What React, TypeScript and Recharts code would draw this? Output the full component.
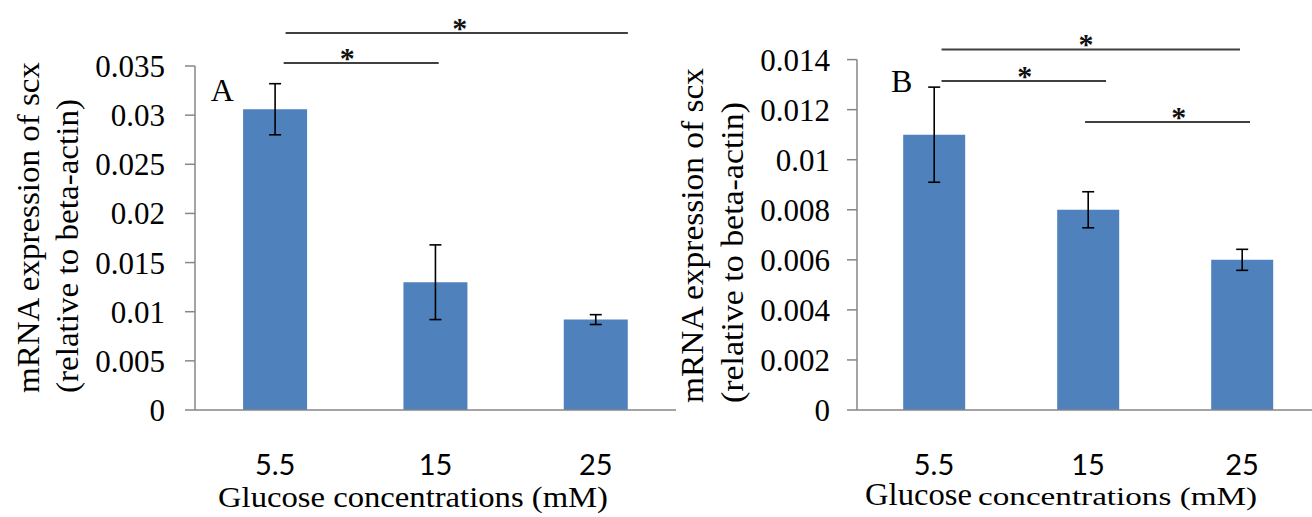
import React from "react"
import {
  BarChart,
  Bar,
  XAxis,
  YAxis,
  ErrorBar,
  ReferenceLine,
  ReferenceDot,
} from "recharts"

const SERIF = '"Liberation Serif", "Times New Roman", serif'
const SANS = 'Lato, "Liberation Sans", sans-serif'
const AXIS = "#868686"
const BAR = "#4f81bd"

// glucose concentrations (mM)
const categories = ["5.5", "15", "25"]
// slot centres on the 0..3 category scale
const slots = [0.5, 1.5, 2.5]

// panel A: scx mRNA relative to beta-actin
const meansA = [0.0306, 0.013, 0.0092]
const errA = [0.0026, 0.0038, 0.0005]
const ticksA = [0, 0.005, 0.01, 0.015, 0.02, 0.025, 0.03, 0.035]

// panel B
const meansB = [0.011, 0.008, 0.006]
const errB = [0.0019, 0.00072, 0.00042]
const ticksB = [0, 0.002, 0.004, 0.006, 0.008, 0.01, 0.012, 0.014]

// significance brackets, in category units (0..3) and value units
const bracketsA = [
  { from: 0.565, to: 2.7, star: 1.652, y: 0.03835 },
  { from: 0.553, to: 1.52, star: 0.95, y: 0.0353 },
]
const bracketsB = [
  { from: 0.549, to: 2.487, star: 1.487, y: 0.0144 },
  { from: 0.549, to: 1.617, star: 1.09, y: 0.01314 },
  { from: 1.481, to: 2.552, star: 2.09, y: 0.01151 },
]

const dataA = categories.map((c, i) => ({ cat: c, idx: slots[i], value: meansA[i], err: errA[i] }))
const dataB = categories.map((c, i) => ({ cat: c, idx: slots[i], value: meansB[i], err: errB[i] }))

const yTitle = (c1: number, c2: number, startY: number, len1: number, len2: number) => () => (
  <g fontFamily={SERIF} fontSize={31} fill="#000">
    <text
      x={c1}
      y={startY}
      transform={`rotate(-90 ${c1} ${startY})`}
      dominantBaseline="central"
      textAnchor="start"
      textLength={len1}
      lengthAdjust="spacingAndGlyphs"
    >
      mRNA expression of scx
    </text>
    <text
      x={c2}
      y={startY}
      transform={`rotate(-90 ${c2} ${startY})`}
      dominantBaseline="central"
      textAnchor="start"
      textLength={len2}
      lengthAdjust="spacingAndGlyphs"
    >
      (relative to beta-actin)
    </text>
  </g>
)

const yTitleFor = (letter: string) =>
  letter === "A" ? yTitle(28, 67, 393, 331, 294) : yTitle(32, 72, 403, 335, 301)

const titleA = () => (
  <text
    x={218}
    y={507}
    fontFamily={SERIF}
    fontSize={30}
    fill="#000"
    textLength={390}
    lengthAdjust="spacingAndGlyphs"
  >
    Glucose concentrations (mM)
  </text>
)

const titleB = () => (
  <g fontFamily={SERIF} fill="#000">
    <text x={205} y={505} fontSize={31} textLength={107} lengthAdjust="spacingAndGlyphs">
      Glucose
    </text>
    <text x={318} y={505} fontSize={26} textLength={279} lengthAdjust="spacingAndGlyphs">
      concentrations (mM)
    </text>
  </g>
)

function Panel({
  data,
  ticks,
  brackets,
  letter,
  letterPos,
  width,
  top,
  right,
  yWidth,
  tickGap,
  title,
}: any) {
  const max = ticks[ticks.length - 1]
  return (
    <BarChart
      width={width}
      height={517}
      data={data}
      margin={{ top, right, bottom: 105, left: 0 }}
      barCategoryGap="30%"
    >
      <XAxis
        dataKey="cat"
        xAxisId="cat"
        height={1}
        tickLine={false}
        tickSize={0}
        tickMargin={44}
        axisLine={{ stroke: AXIS, strokeWidth: 1.5 }}
        tick={{ fontFamily: SANS, fontSize: 29, fill: "#000" }}
        label={title}
      />
      <XAxis
        xAxisId="grid"
        dataKey="idx"
        type="number"
        domain={[0, 3]}
        ticks={[0, 1, 2, 3]}
        interval={0}
        allowDataOverflow
        height={1}
        tick={false}
        tickSize={11}
        axisLine={false}
        tickLine={{ stroke: AXIS, strokeWidth: 1.5 }}
      />
      <YAxis
        width={yWidth}
        domain={[0, max]}
        ticks={ticks}
        interval={0}
        tickSize={10}
        tickMargin={tickGap}
        axisLine={{ stroke: AXIS, strokeWidth: 1.5 }}
        tickLine={{ stroke: AXIS, strokeWidth: 1.5 }}
        tick={{ fontFamily: SERIF, fontSize: 31, fill: "#000" }}
        label={yTitleFor(letter)}
      />
      <Bar dataKey="value" xAxisId="cat" fill={BAR} isAnimationActive={false}>
        <ErrorBar dataKey="err" width={6} stroke="#000" strokeWidth={1.6} />
      </Bar>
      {brackets.map((b: any, i: number) => (
        <ReferenceLine
          key={`l${i}`}
          xAxisId="grid"
          ifOverflow="visible"
          segment={[
            { x: b.from, y: b.y },
            { x: b.to, y: b.y },
          ]}
          stroke="#404040"
          strokeWidth={2}
        />
      ))}
      {brackets.map((b: any, i: number) => (
        <ReferenceDot
          key={`s${i}`}
          xAxisId="grid"
          x={b.star}
          y={b.y}
          r={0}
          fill="none"
          stroke="none"
          ifOverflow="visible"
          label={{
            value: "*",
            position: "center",
            dy: -6,
            fontFamily: SERIF,
            fontWeight: "bold",
            fontSize: 30,
            fill: "#111",
          }}
        />
      ))}
      <ReferenceDot
        xAxisId="grid"
        x={letterPos[0]}
        y={letterPos[1]}
        r={0}
        fill="none"
        stroke="none"
        ifOverflow="visible"
        label={{
          value: letter,
          position: "center",
          fontFamily: SERIF,
          fontSize: 32,
          fill: "#000",
        }}
      />
    </BarChart>
  )
}

export default function App() {
  return (
    <div
      style={{
        position: "absolute",
        left: 0,
        top: 0,
        width: 1312,
        height: 517,
        overflow: "hidden",
        background: "#fff",
      }}
    >
      <div style={{ position: "absolute", left: 0, top: 0 }}>
        <Panel
          data={dataA}
          ticks={ticksA}
          brackets={bracketsA}
          letter="A"
          letterPos={[0.17, 0.03257]}
          width={700}
          top={66}
          right={24}
          yWidth={195}
          tickGap={20}
          title={titleA}
        />
      </div>
      <div style={{ position: "absolute", left: 660, top: 0 }}>
        <Panel
          data={dataB}
          ticks={ticksB}
          brackets={bracketsB}
          letter="B"
          letterPos={[0.29, 0.01316]}
          width={660}
          top={59.6}
          right={1}
          yWidth={197}
          tickGap={17}
          title={titleB}
        />
      </div>
    </div>
  )
}
